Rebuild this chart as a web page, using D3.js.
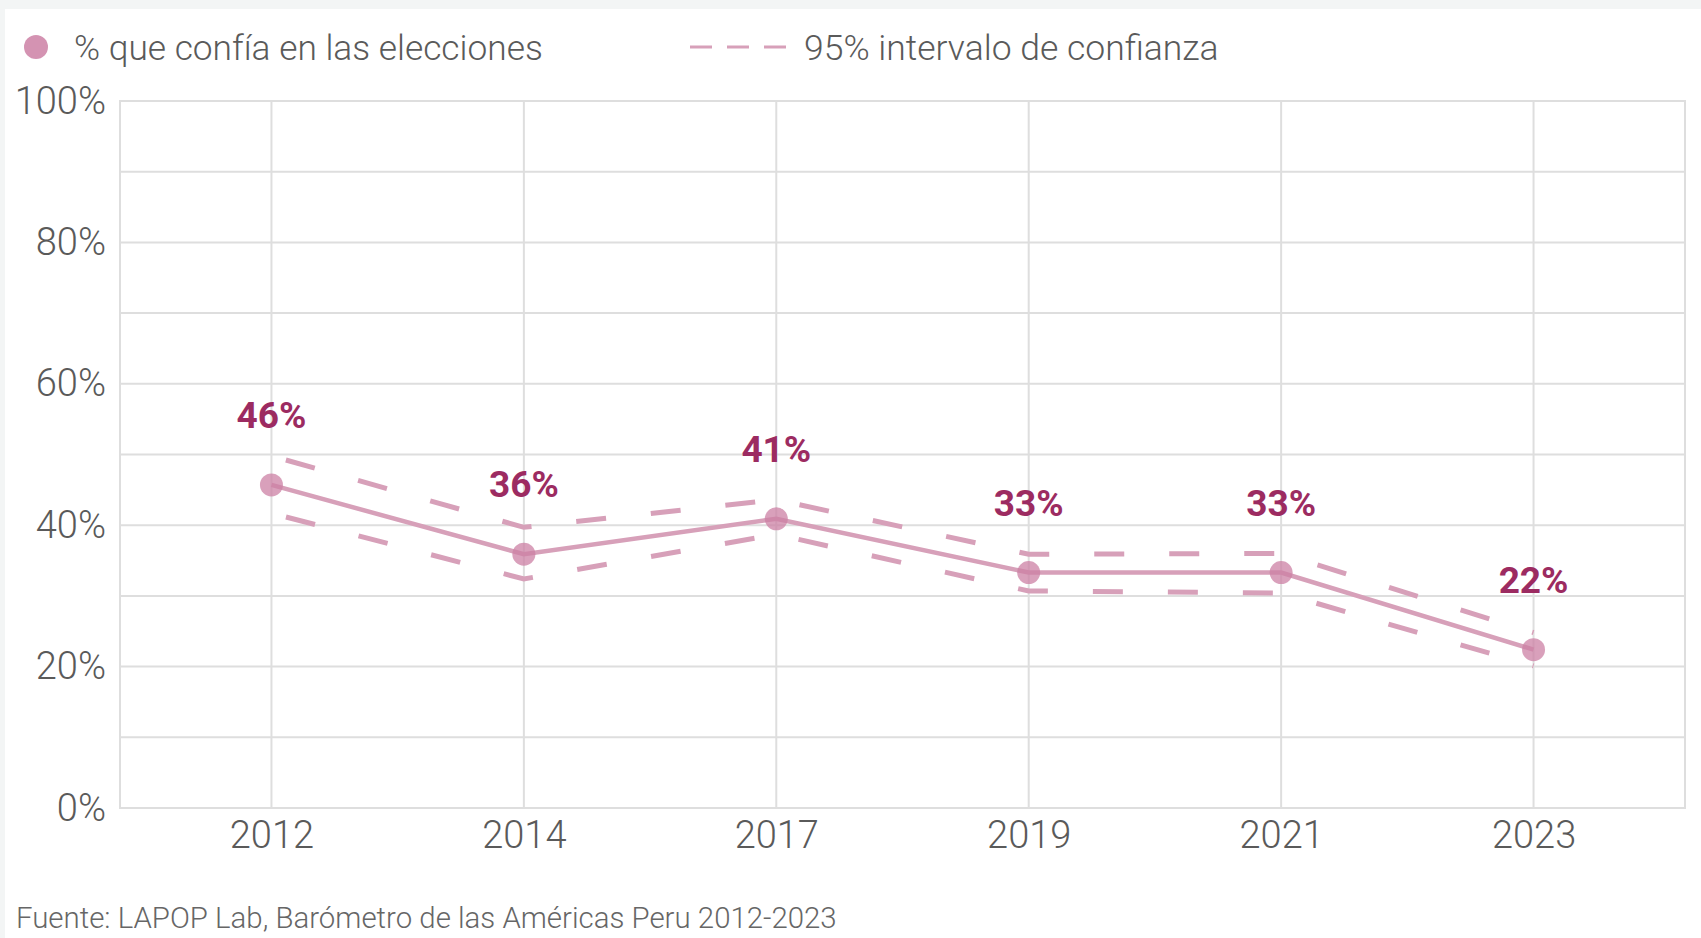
<!DOCTYPE html>
<html>
<head>
<meta charset="utf-8">
<script src="https://cdn.jsdelivr.net/npm/d3@7"></script>
<style>
  body { margin: 0; background: #f3f5f5; font-family: Roboto, sans-serif; }
  #card { position: absolute; left: 5px; top: 9px; width: 1696px; height: 929px; background: #fff; }
</style>
</head>
<body>
<div id="card"></div>
<svg id="chart" width="1701" height="938" style="position:absolute;left:0;top:0"></svg>
<script>
const years = ['2012', '2014', '2017', '2019', '2021', '2023'];
const trust = [45.7, 35.9, 40.9, 33.3, 33.3, 22.4];
const upper = [49.8, 39.7, 43.6, 35.9, 36.0, 24.8];
const lower = [41.7, 32.4, 38.7, 30.7, 30.4, 20.1];
const labels = ['46%', '36%', '41%', '33%', '33%', '22%'];
const yTicks = [0, 20, 40, 60, 80, 100];
const gridTicks = [0, 10, 20, 30, 40, 50, 60, 70, 80, 90, 100];

const margin = {top: 101, right: 16, bottom: 130, left: 120};
const width = 1701;
const height = 938;
const lineColor = '#d7a0b9';
const dotColor = '#cc80a4';
const labelColor = '#9c2b61';
const textColor = '#5a5a5a';

const svg = d3.select('#chart');

const x = d3.scalePoint().
domain(years).
range([margin.left, width - margin.right]).
padding(0.6);

const y = d3.scaleLinear().
domain([0, 100]).
range([height - margin.bottom, margin.top]);

// grid
const grid = svg.append('g');
grid.selectAll('line.h').
data(gridTicks).
enter().
append('line').
attr('x1', margin.left).
attr('x2', width - margin.right).
attr('y1', d => y(d)).
attr('y2', d => y(d)).
attr('stroke', '#dedede').
attr('stroke-width', 2);

grid.selectAll('line.v').
data(years).
enter().
append('line').
attr('x1', d => x(d)).
attr('x2', d => x(d)).
attr('y1', y(0)).
attr('y2', y(100)).
attr('stroke', '#dedede').
attr('stroke-width', 2);

grid.append('rect').
attr('x', margin.left).
attr('y', y(100)).
attr('width', width - margin.right - margin.left).
attr('height', y(0) - y(100)).
attr('fill', 'none').
attr('stroke', '#dedede').
attr('stroke-width', 2);

// axes
const yAxis = d3.axisLeft(y).
tickValues(yTicks).
tickSize(0).
tickPadding(14).
tickFormat(d => d + '%');

svg.append('g').
attr('transform', 'translate(' + margin.left + ',0)').
call(yAxis).
call(g => g.select('.domain').remove()).
selectAll('text').
attr('font-family', 'Roboto').
attr('font-weight', 300).
attr('font-size', 38).
attr('fill', textColor);

const xAxis = d3.axisBottom(x).
tickSize(0).
tickPadding(13);

svg.append('g').
attr('transform', 'translate(0,' + y(0) + ')').
call(xAxis).
call(g => g.select('.domain').remove()).
selectAll('text').
attr('font-family', 'Roboto').
attr('font-weight', 300).
attr('font-size', 38).
attr('fill', textColor);

// confidence interval
const ciLine = d3.line().
x((d, i) => x(years[i])).
y(d => y(d));

[upper, lower].forEach(function (series) {
  svg.append('path').
  datum(series).
  attr('d', ciLine).
  attr('fill', 'none').
  attr('stroke', lineColor).
  attr('stroke-width', 5).
  attr('stroke-dasharray', '0 15 30 30');
});

// main line
svg.append('path').
datum(trust).
attr('d', ciLine).
attr('fill', 'none').
attr('stroke', lineColor).
attr('stroke-width', 4.5);

svg.selectAll('circle.dot').
data(trust).
enter().
append('circle').
attr('cx', (d, i) => x(years[i])).
attr('cy', d => y(d)).
attr('r', 11.5).
attr('fill', dotColor).
attr('fill-opacity', 0.75);

svg.selectAll('text.val').
data(trust).
enter().
append('text').
attr('x', (d, i) => x(years[i])).
attr('y', d => y(d) - 70).
attr('dy', '0.35em').
attr('text-anchor', 'middle').
attr('font-family', 'Roboto').
attr('font-weight', 'bold').
attr('font-size', 37).
attr('fill', labelColor).
text((d, i) => labels[i]);

// legend
const legend = svg.append('g');
legend.append('circle').
attr('cx', 36).
attr('cy', 47).
attr('r', 12).
attr('fill', dotColor).
attr('fill-opacity', 0.85);
legend.append('text').
attr('x', 74).
attr('y', 48).
attr('dy', '0.35em').
attr('font-family', 'Roboto').
attr('font-weight', 300).
attr('font-size', 35.3).
attr('fill', textColor).
text('% que confía en las elecciones');

legend.append('line').
attr('x1', 690).
attr('x2', 786).
attr('y1', 47).
attr('y2', 47).
attr('stroke', lineColor).
attr('stroke-width', 3).
attr('stroke-dasharray', '22 15');
legend.append('text').
attr('x', 804).
attr('y', 48).
attr('dy', '0.35em').
attr('font-family', 'Roboto').
attr('font-weight', 300).
attr('font-size', 35.5).
attr('fill', textColor).
text('95% intervalo de confianza');

svg.append('text').
attr('x', 16).
attr('y', 918).
attr('dy', '0.35em').
attr('font-family', 'Roboto').
attr('font-weight', 300).
attr('font-size', 29.4).
attr('fill', '#666666').
text('Fuente: LAPOP Lab, Barómetro de las Américas Peru 2012-2023');
</script>
</body>
</html>
